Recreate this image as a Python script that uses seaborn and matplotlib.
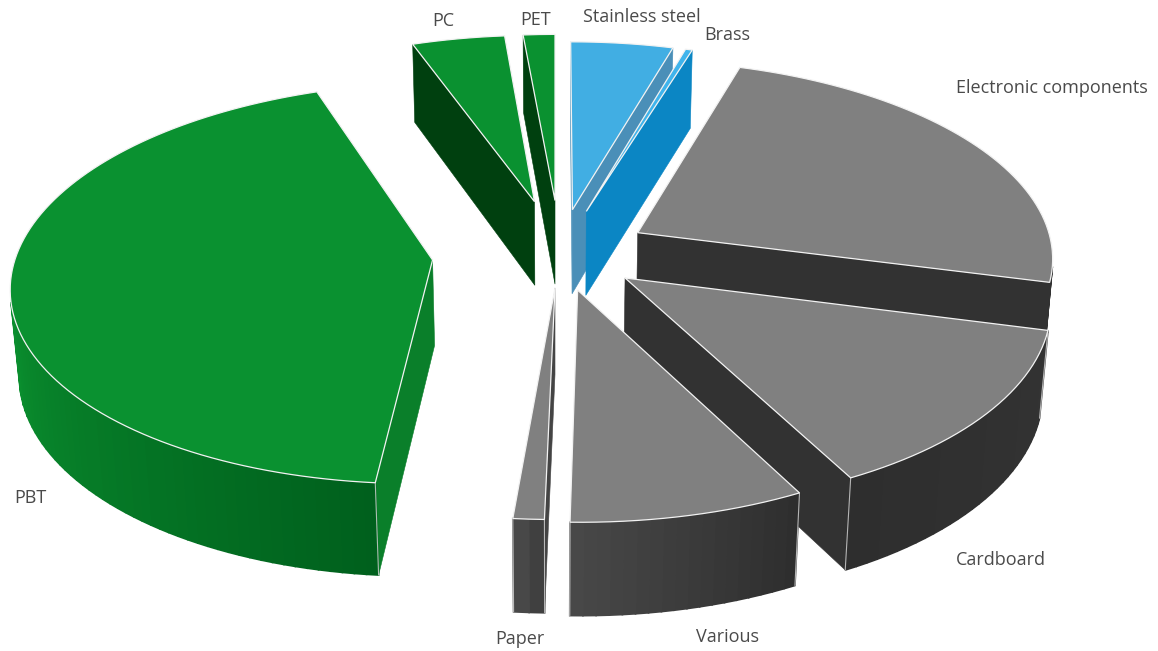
import numpy as np
import matplotlib
matplotlib.use("Agg")
import matplotlib.pyplot as plt
import seaborn as sns

# shares in percent, clockwise from 12 o'clock
categories = ["Stainless steel", "Brass", "Electronic components", "Cardboard",
              "Various", "Paper", "PBT", "PC", "PET"]
shares = [4.5, 0.3, 24.25, 13.3, 8.0, 1.05, 43.1, 4.1, 1.4]

# how far each slice is pulled out, and in which direction (degrees)
explode = [0.166, 0.17, 0.205, 0.253, 0.256, 0.24, 0.31, 0.21, 0.21]
explode_dir = [15, 27, 79, 139, 168, 180, 251, 346, 0]

# painter's order, back to front
draw_order = ["PET", "PC", "Stainless steel", "Brass", "Electronic components",
              "Cardboard", "PBT", "Various", "Paper"]

GREEN = "#0a9130"
GREY = "#808080"
top_colors = {"Stainless steel": "#41aee3", "Brass": "#3fb4ec", "Electronic components": GREY,
              "Cardboard": GREY, "Various": GREY, "Paper": GREY, "PBT": GREEN, "PC": GREEN, "PET": GREEN}
wall_colors = {"Stainless steel": "#4a8fb8", "Brass": "#0b86c4", "Electronic components": "#323232",
               "Cardboard": "#323232", "Various": "#3c3c3c", "Paper": "#444444",
               "PBT": "#0a7f2a", "PC": "#00400f", "PET": "#00400f"}
arc_ramps = {"PBT": ["#00601d", "#0a8e2e"], "Various": ["#2e2e2e", "#484848"],
             "Cardboard": ["#333333", "#2e2e2e"], "Paper": ["#404040", "#484848"]}

label_pos = {"PC": (443, 21), "PET": (536, 20), "Stainless steel": (642, 17), "Brass": (727, 35),
             "Electronic components": (1052, 88), "PBT": (30, 498), "Cardboard": (1001, 560),
             "Various": (728, 637), "Paper": (520, 639)}

sns.set_theme(style="white")
plt.rcParams["font.family"] = ["Open Sans", "DejaVu Sans"]

CX, CY = 555, 290
RX, RY, DEPTH = 425, 205, 88
PERSP, PERSP_Z = 0.117, 0.017
PLAN_CENTER_Y = 0.25


def project(x, y, z):
    d = 1 + PERSP * y - PERSP_Z * z
    return CX + RX * x / d, CY - (RY * y + DEPTH * z) / d


def signed_area(pts):
    xs, ys = zip(*pts)
    return 0.5 * sum(xs[i] * ys[(i + 1) % len(xs)] - xs[(i + 1) % len(xs)] * ys[i] for i in range(len(xs)))


def quad(a, b):
    return [project(a[0], a[1], 0), project(b[0], b[1], 0), project(b[0], b[1], -1), project(a[0], a[1], -1)]


fig = plt.figure(figsize=(11.58, 6.51), dpi=100, facecolor="white")
ax = fig.add_axes([0, 0, 1, 1])
ax.set_xlim(0, 1158)
ax.set_ylim(651, 0)
ax.axis("off")

edges = np.cumsum([0] + shares) / sum(shares) * 360
slices = {}
for name, a0, a1, ex, ed in zip(categories, edges[:-1], edges[1:], explode, explode_dir):
    slices[name] = (a0, a1, ex, ed)

for name in draw_order:
    a0, a1, ex, ed = slices[name]
    ox = ex * np.sin(np.radians(ed))
    oy = PLAN_CENTER_Y + ex * np.cos(np.radians(ed))
    theta = np.radians(np.linspace(a0, a1, max(3, int((a1 - a0) / 1.5))))
    rim = [(ox + np.sin(t), oy + np.cos(t)) for t in theta]
    apex = (ox, oy)

    # the two radial walls, only when they face the viewer
    for a, b in [(apex, rim[0]), (rim[-1], apex)]:
        pts = quad(a, b)
        if signed_area(pts) < 0:
            ax.fill(*zip(*pts), color=wall_colors[name], lw=0.4)

    # outer wall in short strips, gradient over the visible part only
    strips = [quad(rim[i], rim[i + 1]) for i in range(len(rim) - 1)]
    strips = [s for s in strips if signed_area(s) < 0]
    if strips:
        ramp = sns.blend_palette(arc_ramps.get(name, [wall_colors[name]] * 2), n_colors=len(strips))
        for pts, col in zip(strips, ramp):
            ax.fill(*zip(*pts), color=col, lw=1.2)

    # pale seams on the vertical corners
    if name in ("PBT", "Various", "Cardboard", "Paper"):
        for p in (rim[0], rim[-1]):
            top, bottom = project(p[0], p[1], 0), project(p[0], p[1], -1)
            ax.plot(*zip(top, bottom), color="#d8d8d8", lw=0.8, alpha=0.8, zorder=1)

    top_pts = [project(apex[0], apex[1], 0)] + [project(x, y, 0) for x, y in rim]
    ax.fill(*zip(*top_pts), facecolor=top_colors[name], edgecolor="#f2f2f2", lw=0.9)

for name, (x, y) in label_pos.items():
    ax.text(x, y, name, ha="center", va="center", fontsize=13, color="#4a4a4a")

fig.savefig("out.png", dpi=100, facecolor="white")
